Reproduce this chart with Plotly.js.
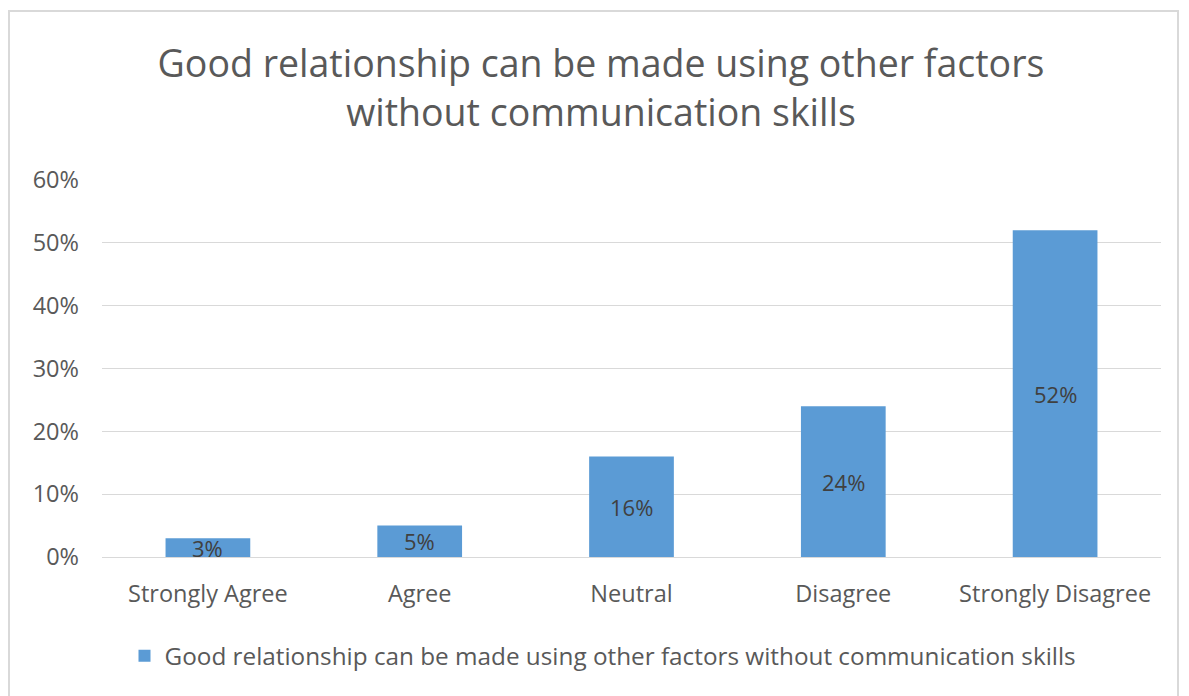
<!DOCTYPE html>
<html>
<head>
<meta charset="utf-8">
<script src="https://cdn.plot.ly/plotly-3.0.1.min.js"></script>
<style>
html,body{margin:0;padding:0;background:#fff;overflow:hidden;}
#frame{position:absolute;left:8px;top:10px;width:1171px;height:720px;border:2px solid #d9d9d9;box-sizing:border-box;pointer-events:none;z-index:5;}
#chart{width:1189px;height:696px;}
</style>
</head>
<body>
<div id="frame"></div>
<div id="chart"></div>
<script>
const categories = ["Strongly Agree", "Agree", "Neutral", "Disagree", "Strongly Disagree"];
const values = [3, 5, 16, 24, 52];
const labels = ["3%", "5%", "16%", "24%", "52%"];
const yTicks = [0, 10, 20, 30, 40, 50, 60];
const yTickText = ["0%", "10%", "20%", "30%", "40%", "50%", "60%"];
const seriesName = "Good relationship can be made using other factors without communication skills";
const titleText = "Good relationship can be made using other factors<br>without communication skills";

const FONT = "Open Sans, Segoe UI, Calibri, sans-serif";
const GRAY = "#595959";

const trace = {
  type: "bar",
  x: categories,
  y: values,
  name: seriesName,
  marker: {color: "#5b9bd5"},
  hoverinfo: "skip",
  showlegend: true
};

const annotations = categories.map((c, i) => ({
  x: c, y: values[i] / 2, xref: "x", yref: "y",
  text: labels[i], showarrow: false,
  font: {family: FONT, size: 22, color: "#404040"}
}));

const layout = {
  width: 1189, height: 696,
  paper_bgcolor: "#fff", plot_bgcolor: "#fff",
  margin: {l: 102, r: 28, t: 180, b: 139},
  title: {
    text: titleText,
    font: {family: FONT, size: 37.5, color: GRAY},
    x: 601 / 1189, xanchor: "center",
    y: 1 - 77 / 696, yanchor: "middle", yref: "container"
  },
  bargap: 0.6,
  xaxis: {
    type: "category",
    tickfont: {family: FONT, size: 23.5, color: GRAY},
    showgrid: false, zeroline: false,
    showline: true, linecolor: "#d9d9d9", linewidth: 1,
    ticks: "", ticklabelstandoff: 16
  },
  yaxis: {
    range: [0, 60],
    tickvals: yTicks, ticktext: yTickText,
    tickfont: {family: FONT, size: 23.5, color: GRAY},
    showgrid: true, gridcolor: "#d9d9d9", gridwidth: 1,
    zeroline: false, showline: false, ticks: "",
    ticklabelstandoff: 22
  },
  legend: {
    orientation: "h",
    xref: "container", yref: "container",
    x: 603 / 1189, xanchor: "center",
    y: 1 - 656 / 696, yanchor: "middle",
    font: {family: FONT, size: 24.3, color: GRAY},
    itemwidth: 30
  },
  annotations: annotations
};

Plotly.newPlot("chart", [trace], layout, {displayModeBar: false, staticPlot: true});
</script>
</body>
</html>
